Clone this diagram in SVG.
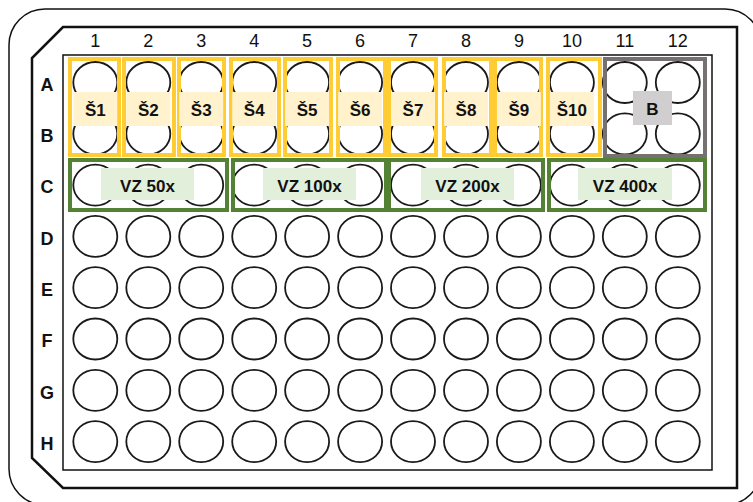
<svg xmlns="http://www.w3.org/2000/svg" width="753" height="502" viewBox="0 0 753 502">
<defs>
<style>
.lbl{font-family:"Liberation Sans",Arial,sans-serif;font-size:18px;fill:#111;text-anchor:middle}
.col{font-weight:normal}
.row{font-weight:bold}
.tag{font-family:"Liberation Sans",Arial,sans-serif;font-size:17px;font-weight:bold;fill:#111;text-anchor:middle}
.well{fill:#fff;stroke:#1a1a1a;stroke-width:1.8}
.ybox{fill:none;stroke:#FFCC33;stroke-width:4}
.ylab{fill:#FFF2CC}
.gbox{fill:none;stroke:#548235;stroke-width:4}
.glab{fill:#E2EFDA}
.bbox{fill:none;stroke:#757171;stroke-width:4}
.blab{fill:#D0CECE}
</style>
<ellipse id="w" class="well" cx="0" cy="0" rx="22" ry="20.5"/>
</defs>
<rect width="753" height="502" fill="#fff"/>
<g id="plate">
<rect x="9" y="9" width="752" height="496" rx="36" ry="36" fill="none" stroke="#111" stroke-width="1.5"/>
<path d="M63,27 L737,27 L737,488 L63,488 L32,458 L32,58 Z" fill="none" stroke="#111" stroke-width="2.5"/>
<rect x="63" y="55" width="649" height="415" fill="none" stroke="#111" stroke-width="1.5"/>
</g>
<g id="column-labels" class="lbl col">
<text x="95.3" y="47">1</text><text x="148.3" y="47">2</text><text x="201.2" y="47">3</text><text x="254.2" y="47">4</text><text x="307.1" y="47">5</text><text x="360.1" y="47">6</text><text x="413" y="47">7</text><text x="466" y="47">8</text><text x="518.9" y="47">9</text><text x="571.9" y="47">10</text><text x="624.8" y="47">11</text><text x="677.8" y="47">12</text>
</g>
<g id="row-labels" class="lbl row">
<text x="47" y="91">A</text><text x="47" y="142">B</text><text x="47" y="193">C</text><text x="47" y="245">D</text><text x="47" y="296">E</text><text x="47" y="347">F</text><text x="47" y="399">G</text><text x="47" y="450">H</text>
</g>
<g id="wells">
<g transform="translate(0,82.5)"><use href="#w" x="95.3"/><use href="#w" x="148.3"/><use href="#w" x="201.2"/><use href="#w" x="254.2"/><use href="#w" x="307.1"/><use href="#w" x="360.1"/><use href="#w" x="413"/><use href="#w" x="466"/><use href="#w" x="518.9"/><use href="#w" x="571.9"/><use href="#w" x="624.8"/><use href="#w" x="677.8"/></g>
<g transform="translate(0,133.8)"><use href="#w" x="95.3"/><use href="#w" x="148.3"/><use href="#w" x="201.2"/><use href="#w" x="254.2"/><use href="#w" x="307.1"/><use href="#w" x="360.1"/><use href="#w" x="413"/><use href="#w" x="466"/><use href="#w" x="518.9"/><use href="#w" x="571.9"/><use href="#w" x="624.8"/><use href="#w" x="677.8"/></g>
<g transform="translate(0,185.1)"><use href="#w" x="95.3"/><use href="#w" x="148.3"/><use href="#w" x="201.2"/><use href="#w" x="254.2"/><use href="#w" x="307.1"/><use href="#w" x="360.1"/><use href="#w" x="413"/><use href="#w" x="466"/><use href="#w" x="518.9"/><use href="#w" x="571.9"/><use href="#w" x="624.8"/><use href="#w" x="677.8"/></g>
<g transform="translate(0,236.4)"><use href="#w" x="95.3"/><use href="#w" x="148.3"/><use href="#w" x="201.2"/><use href="#w" x="254.2"/><use href="#w" x="307.1"/><use href="#w" x="360.1"/><use href="#w" x="413"/><use href="#w" x="466"/><use href="#w" x="518.9"/><use href="#w" x="571.9"/><use href="#w" x="624.8"/><use href="#w" x="677.8"/></g>
<g transform="translate(0,287.7)"><use href="#w" x="95.3"/><use href="#w" x="148.3"/><use href="#w" x="201.2"/><use href="#w" x="254.2"/><use href="#w" x="307.1"/><use href="#w" x="360.1"/><use href="#w" x="413"/><use href="#w" x="466"/><use href="#w" x="518.9"/><use href="#w" x="571.9"/><use href="#w" x="624.8"/><use href="#w" x="677.8"/></g>
<g transform="translate(0,339)"><use href="#w" x="95.3"/><use href="#w" x="148.3"/><use href="#w" x="201.2"/><use href="#w" x="254.2"/><use href="#w" x="307.1"/><use href="#w" x="360.1"/><use href="#w" x="413"/><use href="#w" x="466"/><use href="#w" x="518.9"/><use href="#w" x="571.9"/><use href="#w" x="624.8"/><use href="#w" x="677.8"/></g>
<g transform="translate(0,390.3)"><use href="#w" x="95.3"/><use href="#w" x="148.3"/><use href="#w" x="201.2"/><use href="#w" x="254.2"/><use href="#w" x="307.1"/><use href="#w" x="360.1"/><use href="#w" x="413"/><use href="#w" x="466"/><use href="#w" x="518.9"/><use href="#w" x="571.9"/><use href="#w" x="624.8"/><use href="#w" x="677.8"/></g>
<g transform="translate(0,441.6)"><use href="#w" x="95.3"/><use href="#w" x="148.3"/><use href="#w" x="201.2"/><use href="#w" x="254.2"/><use href="#w" x="307.1"/><use href="#w" x="360.1"/><use href="#w" x="413"/><use href="#w" x="466"/><use href="#w" x="518.9"/><use href="#w" x="571.9"/><use href="#w" x="624.8"/><use href="#w" x="677.8"/></g>
</g>
<g id="S1"><rect class="ybox" x="70" y="59" width="49" height="96"/><rect class="ylab" x="73.3" y="92" width="44" height="34"/><text class="tag" x="95.3" y="115.5">Š1</text></g>
<g id="S2"><rect class="ybox" x="124" y="59" width="50" height="96"/><rect class="ylab" x="126.3" y="92" width="44" height="34"/><text class="tag" x="148.3" y="115.5">Š2</text></g>
<g id="S3"><rect class="ybox" x="179" y="59" width="45" height="96"/><rect class="ylab" x="179.2" y="92" width="44" height="34"/><text class="tag" x="201.2" y="115.5">Š3</text></g>
<g id="S4"><rect class="ybox" x="231" y="59" width="48" height="96"/><rect class="ylab" x="232.2" y="92" width="44" height="34"/><text class="tag" x="254.2" y="115.5">Š4</text></g>
<g id="S5"><rect class="ybox" x="285" y="59" width="46" height="96"/><rect class="ylab" x="285.1" y="92" width="44" height="34"/><text class="tag" x="307.1" y="115.5">Š5</text></g>
<g id="S6"><rect class="ybox" x="338" y="59" width="47" height="96"/><rect class="ylab" x="338.1" y="92" width="44" height="34"/><text class="tag" x="360.1" y="115.5">Š6</text></g>
<g id="S7"><rect class="ybox" x="389" y="59" width="47" height="96"/><rect class="ylab" x="391" y="92" width="44" height="34"/><text class="tag" x="413" y="115.5">Š7</text></g>
<g id="S8"><rect class="ybox" x="444" y="59" width="47" height="96"/><rect class="ylab" x="444" y="92" width="44" height="34"/><text class="tag" x="466" y="115.5">Š8</text></g>
<g id="S9"><rect class="ybox" x="495" y="59" width="46" height="96"/><rect class="ylab" x="496.9" y="92" width="44" height="34"/><text class="tag" x="518.9" y="115.5">Š9</text></g>
<g id="S10"><rect class="ybox" x="548" y="59" width="52" height="96"/><rect class="ylab" x="549.9" y="92" width="44" height="34"/><text class="tag" x="571.9" y="115.5">Š10</text></g>
<g id="Blank"><rect class="bbox" x="605" y="59" width="100" height="97"/><rect class="blab" x="633" y="91" width="39" height="34"/><text class="tag" x="652.5" y="114.5">B</text></g>
<g id="VZ50"><rect class="gbox" x="70" y="160" width="157" height="50"/><rect class="glab" x="101" y="168" width="93" height="32"/><text class="tag" x="147.5" y="192">VZ 50x</text></g>
<g id="VZ100"><rect class="gbox" x="233" y="160" width="153" height="50"/><rect class="glab" x="263" y="168" width="93" height="32"/><text class="tag" x="309.5" y="192">VZ 100x</text></g>
<g id="VZ200"><rect class="gbox" x="389" y="160" width="154" height="50"/><rect class="glab" x="421" y="168" width="93" height="32"/><text class="tag" x="467.5" y="192">VZ 200x</text></g>
<g id="VZ400"><rect class="gbox" x="549" y="160" width="156" height="50"/><rect class="glab" x="578" y="168" width="94" height="32"/><text class="tag" x="625" y="192">VZ 400x</text></g>
<g id="connectors"/>
</svg>
